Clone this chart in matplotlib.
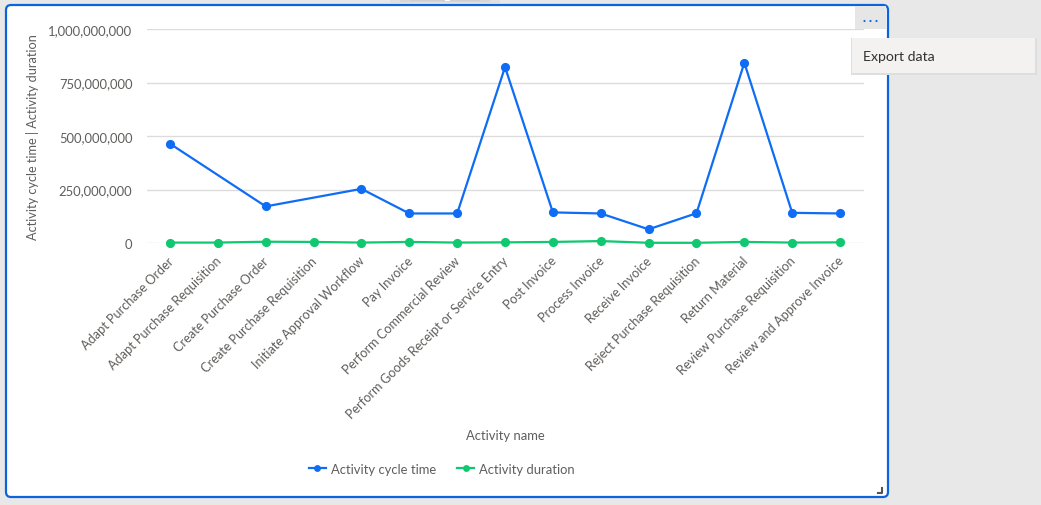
import matplotlib
matplotlib.use("Agg")
import matplotlib.pyplot as plt
from matplotlib.patches import FancyBboxPatch, Rectangle, Circle
from matplotlib.transforms import IdentityTransform, ScaledTranslation
from matplotlib.ticker import FuncFormatter
import numpy as np

categories = [
    "Adapt Purchase Order", "Adapt Purchase Requisition", "Create Purchase Order",
    "Create Purchase Requisition", "Initiate Approval Workflow", "Pay Invoice",
    "Perform Commercial Review", "Perform Goods Receipt or Service Entry",
    "Post Invoice", "Process Invoice", "Receive Invoice", "Reject Purchase Requisition",
    "Return Material", "Review Purchase Requisition", "Review and Approve Invoice",
]
cycle_time = [464e6, None, 171e6, None, 253e6, 138e6, 138e6, 822e6,
              143e6, 138e6, 64e6, 139e6, 842e6, 141e6, 138e6]
duration = [2e6, 2e6, 6e6, 5e6, 2e6, 5e6, 2e6, 3e6,
            5e6, 9e6, 1e6, 1e6, 5e6, 2e6, 3e6]
yticks = [0, 250e6, 500e6, 750e6, 1000e6]

W, H = 1041, 506
plt.rcParams['font.family'] = ['Lato', 'DejaVu Sans']
TXT = '#605e5c'
BLUE = '#0f6cf5'
GREEN = '#0fc870'
ID = IdentityTransform()

fig = plt.figure(figsize=(W / 100, H / 100), dpi=100, facecolor='#e8e8e8')

def px(x0, y0, x1, y1):
    # pixel box (top-left origin) -> display coords
    return x0, H - y1, x1 - x0, y1 - y0

# top-center faint shadow
for i, (a, b, c) in enumerate([(390, 500, 0.25), (400, 490, 0.35), (410, 480, 0.45)]):
    x, y, w, h = px(a, 0, b, 4 - i)
    fig.add_artist(Rectangle((x, y), w, h, transform=ID, facecolor='#c8c8c8', alpha=c, edgecolor='none'))
x, y, w, h = px(445, 0, 450, 2)
fig.add_artist(Rectangle((x, y), w, h, transform=ID, facecolor='#ffffff', edgecolor='none'))

# card
x, y, w, h = px(6, 6, 888, 498)
fig.add_artist(FancyBboxPatch((x, y), w, h, boxstyle="round,pad=0,rounding_size=5",
                              transform=ID, facecolor='white',
                              edgecolor='#0b64db', linewidth=1.6, zorder=1))

# "..." button
x, y, w, h = px(855, 7, 886, 30)
fig.add_artist(Rectangle((x, y), w, h, transform=ID, facecolor='#e6e6e6', edgecolor='none', zorder=2))
for cxp in (864.5, 870.5, 876.5):
    fig.add_artist(Circle((cxp, H - 22), 1.1, transform=ID, facecolor='#1a6ad8', edgecolor='none', zorder=3))

# export popup with shadow
x, y, w, h = px(851, 39, 1037, 76)
fig.add_artist(Rectangle((x, y), w, h, transform=ID, facecolor='#dedede', edgecolor='none', zorder=4))
x, y, w, h = px(852, 39, 1035, 74)
fig.add_artist(Rectangle((x, y), w, h, transform=ID, facecolor='#f3f2f1', edgecolor='none', zorder=5))
fig.text(863 / W, 1 - 57 / H, 'Export data', color='#323130', fontsize=10.2, ha='left', va='center', zorder=6)

# resize handle
fig.add_artist(plt.Line2D([877.5, 882, 882], [H - 493.5, H - 493.5, H - 489], transform=ID,
                          color='#555555', linewidth=1.5, zorder=3))

ax = fig.add_axes([147 / W, (H - 244) / H, (864 - 147) / W, (244 - 30) / H])
ax.set_facecolor('none')
ax.set_zorder(2)

xs = np.arange(len(categories))
cx = [i for i, v in zip(xs, cycle_time) if v is not None]
cv = [v for v in cycle_time if v is not None]
ax.plot(cx, cv, color=BLUE, linewidth=1.6, marker='o', markersize=6.6, markeredgewidth=0,
        clip_on=False, zorder=4, label='Activity cycle time')
ax.plot(xs, duration, color=GREEN, linewidth=1.6, marker='o', markersize=6.6, markeredgewidth=0,
        clip_on=False, zorder=3, label='Activity duration')

ax.set_xlim(-0.48, len(categories) - 0.5)
ax.set_ylim(0, 1e9)
ax.set_yticks(yticks)
ax.yaxis.set_major_formatter(FuncFormatter(lambda v, p: f"{int(v):,}"))
ax.grid(axis='y', color='#dcdcdc', linewidth=1)
ax.set_axisbelow(True)
for s in ax.spines.values():
    s.set_visible(False)
ax.tick_params(axis='y', length=0, pad=10.5, labelsize=9.4, labelcolor=TXT)
ax.set_xticks(xs)
ax.set_xticklabels(categories, rotation=45, ha='right', rotation_mode='anchor', fontsize=9.2, color=TXT)
ax.tick_params(axis='x', length=0, pad=8)
shift = ScaledTranslation(-3 / 100, 0, fig.dpi_scale_trans)
for lbl in ax.get_xticklabels():
    lbl.set_transform(lbl.get_transform() + shift)

fig.text(33 / W, 1 - 137 / H, 'Activity cycle time | Activity duration', rotation=90,
         ha='center', va='center', fontsize=9.2, color=TXT)
fig.text(505 / W, 1 - 436 / H, 'Activity name', ha='center', va='center', fontsize=9.4, color=TXT)

leg = fig.legend(loc='center', bbox_to_anchor=(442 / W, 1 - 470 / H), ncol=2, frameon=False,
                 fontsize=9.4, handlelength=1.3, handletextpad=0.4, columnspacing=1.6, markerscale=0.75)
for t in leg.get_texts():
    t.set_color(TXT)

fig.savefig('out.png', dpi=100, facecolor=fig.get_facecolor())
